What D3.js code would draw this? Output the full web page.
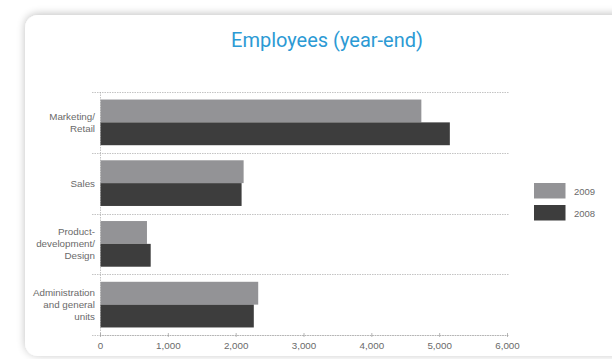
<!DOCTYPE html>
<html>
<head>
<meta charset="utf-8">
<script src="https://cdn.jsdelivr.net/npm/d3@7"></script>
<style>
  html, body { margin: 0; padding: 0; background: #fff; }
  svg { display: block; font-family: "Liberation Sans", Arial, sans-serif; }
</style>
</head>
<body>
<svg id="chart" width="612" height="359"></svg>
<script>
// data
const categories = [
  ['Marketing/', 'Retail'],
  ['Sales'],
  ['Product-', 'development/', 'Design'],
  ['Administration', 'and general', 'units']
];
const years = ['2009', '2008'];
const values2009 = [4730, 2110, 685, 2325];
const values2008 = [5150, 2080, 740, 2260];
const xTicks = [0, 1000, 2000, 3000, 4000, 5000, 6000];

const colors = { '2009': '#939396', '2008': '#3d3d3d' };

const svg = d3.select('#chart');

// card background with soft shadow
const defs = svg.append('defs');
const f = defs.append('filter').attr('id', 'shadow')
  .attr('x', '-10%').attr('y', '-10%').attr('width', '130%').attr('height', '130%');
f.append('feGaussianBlur').attr('in', 'SourceAlpha').attr('stdDeviation', 4);
f.append('feOffset').attr('dx', 0).attr('dy', -1).attr('result', 'b');
f.append('feComponentTransfer').append('feFuncA').attr('type', 'linear').attr('slope', 0.25);
const m = f.append('feMerge');
m.append('feMergeNode');
m.append('feMergeNode').attr('in', 'SourceGraphic');

svg.append('rect')
  .attr('x', 25).attr('y', 15)
  .attr('width', 640).attr('height', 341)
  .attr('rx', 13).attr('ry', 13)
  .attr('fill', '#fff')
  .attr('filter', 'url(#shadow)');

svg.append('text')
  .attr('x', 327).attr('y', 47)
  .attr('text-anchor', 'middle')
  .attr('font-family', 'Roboto, "Liberation Sans", sans-serif')
  .attr('font-size', 20)
  .attr('fill', '#2c9ad4')
  .text('Employees (year-end)');

const margin = { left: 100, right: 508, top: 92, bottom: 335 };

const x = d3.scaleLinear().domain([0, 6000]).range([margin.left, margin.right - 1]);
const y = d3.scaleBand().domain(d3.range(categories.length))
  .range([margin.top, margin.bottom]).paddingInner(0).paddingOuter(0);
const inner = d3.scaleBand().domain(years)
  .range([0, y.bandwidth()]).paddingOuter(0.33).paddingInner(0);

const g = svg.append('g');

// dashed separators between groups
const seps = d3.range(categories.length + 1).map(i => margin.top + i * y.bandwidth());
g.selectAll('line.sep').data(seps).enter().append('line')
  .attr('class', 'sep')
  .attr('x1', 92).attr('x2', 509)
  .attr('y1', d => Math.round(d) + 0.5).attr('y2', d => Math.round(d) + 0.5)
  .attr('stroke', '#aaa').attr('stroke-width', 0.7)
  .attr('stroke-dasharray', '1.5,1');

// zero line
g.append('line')
  .attr('x1', x(0) + 0.5).attr('x2', x(0) + 0.5)
  .attr('y1', margin.top).attr('y2', margin.bottom)
  .attr('stroke', '#aaa').attr('stroke-width', 0.7)
  .attr('stroke-dasharray', '1.5,1');

// bars
const rows = categories.map((c, i) => ({ i, '2009': values2009[i], '2008': values2008[i] }));
const grp = g.selectAll('g.grp').data(rows).enter().append('g')
  .attr('class', 'grp')
  .attr('transform', d => `translate(0,${y(d.i)})`);
grp.selectAll('rect').data(d => years.map(k => ({ k, v: d[k] }))).enter().append('rect')
  .attr('x', x(0) + 0.5)
  .attr('y', d => inner(d.k))
  .attr('width', d => x(d.v) - x(0))
  .attr('height', inner.bandwidth())
  .attr('fill', d => colors[d.k]);

// category labels
const lab = g.selectAll('text.cat').data(categories).enter().append('text')
  .attr('class', 'cat')
  .attr('text-anchor', 'end')
  .attr('font-size', 9.8)
  .attr('fill', '#6a6a6a');
lab.each(function (lines, i) {
  const cy = y(i) + y.bandwidth() / 2;
  const lh = 12;
  const y0 = cy - (lines.length - 1) * lh / 2 + 3.5;
  d3.select(this).selectAll('tspan').data(lines).enter().append('tspan')
    .attr('x', 95)
    .attr('y', (d, j) => y0 + j * lh)
    .text(d => d);
});

// x axis
const axis = d3.axisBottom(x).tickValues(xTicks).tickSize(3).tickFormat(d3.format(','));
const ax = g.append('g').attr('transform', `translate(0,${margin.bottom})`).call(axis);
ax.select('.domain').attr('stroke', '#aaa').attr('stroke-width', 0.7).attr('stroke-dasharray', '1.5,1')
  .attr('d', `M${x(0)},0.5H${x(6000)}`);
ax.selectAll('.tick line').attr('stroke', '#999').attr('stroke-width', 0.7).attr('y1', -2).attr('y2', 2);
ax.selectAll('.tick text').attr('fill', '#6a6a6a').attr('font-size', 9.8)
  .attr('font-family', '"Liberation Sans", Arial, sans-serif').attr('dy', null).attr('y', 14);

// legend
const leg = svg.append('g').attr('transform', 'translate(534,183)');
const li = leg.selectAll('g').data(years).enter().append('g')
  .attr('transform', (d, i) => `translate(0,${i * 22})`);
li.append('rect').attr('width', 31.5).attr('height', 15.5).attr('fill', d => colors[d]);
li.append('text').attr('x', 40).attr('y', 11.5).attr('font-size', 9.5).attr('fill', '#6a6a6a').text(d => d);
</script>
</body>
</html>
